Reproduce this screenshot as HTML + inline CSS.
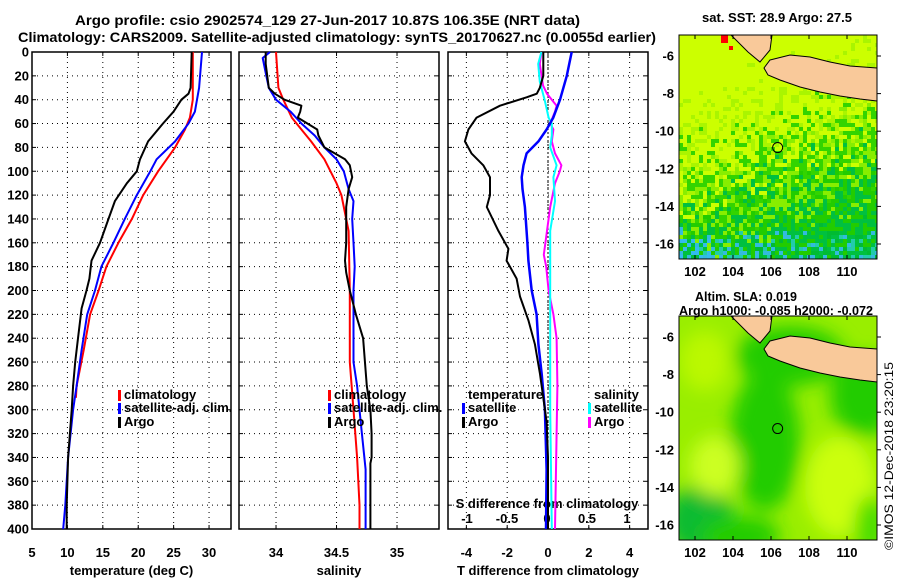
<!DOCTYPE html>
<html><head><meta charset="utf-8">
<style>
html,body{margin:0;padding:0;background:#fff;}
svg{display:block;font-family:"Liberation Sans",Arial,sans-serif;font-weight:bold;}
text{font-size:13px;fill:#000;}
</style></head>
<body>
<svg id="fig" width="900" height="580" viewBox="0 0 900 580" xmlns="http://www.w3.org/2000/svg">
<defs>
<filter id="blur" x="-50%" y="-50%" width="200%" height="200%"><feGaussianBlur stdDeviation="9"/></filter>
<clipPath id="clipMap1"><rect x="679" y="35" width="198" height="224"/></clipPath>
<clipPath id="clipMap2"><rect x="679" y="316" width="198" height="224"/></clipPath>
</defs>
<text x="75" y="25" textLength="505" lengthAdjust="spacingAndGlyphs" style="font-size:14px">Argo profile: csio 2902574_129 27-Jun-2017 10.87S 106.35E (NRT data)</text>
<text x="18" y="42" textLength="638" lengthAdjust="spacingAndGlyphs" style="font-size:14px">Climatology: CARS2009. Satellite-adjusted climatology: synTS_20170627.nc (0.0055d earlier)</text>
<g id="panels"></g>
<g id="maps"></g>
<text transform="translate(893,550) rotate(-90)" textLength="188" lengthAdjust="spacingAndGlyphs" style="font-size:12px;font-weight:normal">©IMOS 12-Dec-2018 23:20:15</text>
</svg>
<script>
// ---- data (depth in dbar) ----
const depthTicks = [0,20,40,60,80,100,120,140,160,180,200,220,240,260,280,300,320,340,360,380,400];
const tempTicks = [5,10,15,20,25,30];
const salTicks = [34,34.5,35];
const tdiffTicks = [-4,-2,0,2,4];
const sdiffTicks = [-1,-0.5,0,0.5,1];
const sdiffTickLabels = ["-1","-0.5","0","0.5","1"];

const argoTDepth = [0,30,35,40,50,60,75,90,100,110,125,140,160,175,190,200,215,240,260,280,300,340,380,400];
const argoT = [27.55,27.4,27.1,26.1,25.0,23.5,21.4,20.25,19.8,18.4,16.7,15.8,14.6,13.4,13.1,12.7,12.0,11.5,11.1,10.8,10.6,10.1,9.9,9.9];
const satTDepth = [0,30,50,60,75,90,100,120,140,160,180,200,220,250,280,300,340,380,400];
const satT = [29.0,28.6,28.0,27.1,25.2,22.6,21.7,19.8,18.1,16.5,14.8,13.9,12.8,12.0,11.3,10.8,10.1,9.7,9.4];
const climTDepth = [0,40,55,65,80,100,120,140,160,180,200,220,250,280,290];
const climT = [27.7,27.7,27.3,26.6,25.2,22.8,20.7,19.1,17.2,15.5,14.4,13.2,12.3,11.3,11.2];

const argoSDepth = [0,10,30,35,40,45,50,55,65,70,80,90,95,105,115,130,160,175,185,200,220,240,280,300,320,340,345,400];
const argoS = [33.915,33.915,33.94,33.99,34.07,34.21,34.2,34.18,34.34,34.35,34.40,34.57,34.61,34.63,34.60,34.58,34.58,34.57,34.58,34.61,34.66,34.72,34.75,34.78,34.79,34.79,34.78,34.78];
const satSDepth = [0,5,20,30,40,50,60,70,80,90,100,115,125,140,160,180,200,240,260,280,300,320,350,400];
const satS = [33.95,33.89,33.92,33.94,34.0,34.12,34.21,34.32,34.40,34.50,34.56,34.60,34.64,34.63,34.64,34.65,34.64,34.64,34.64,34.67,34.69,34.71,34.74,34.74];
const climSDepth = [0,30,40,55,65,75,90,110,120,130,150,200,260,300,340,380,400];
const climS = [34.0,34.02,34.06,34.13,34.21,34.29,34.40,34.50,34.54,34.56,34.60,34.61,34.61,34.64,34.67,34.69,34.69];

const argoTdDepth = [0,20,30,35,38,45,55,65,75,85,95,105,120,130,150,165,175,190,205,225,245,270,290,310,340,400];
const argoTd = [-0.23,-0.23,-0.4,-0.55,-1.05,-2.35,-3.5,-3.9,-4.07,-3.75,-3.17,-2.84,-2.84,-3.0,-2.43,-1.94,-2.03,-1.54,-1.37,-0.96,-0.64,-0.39,-0.23,-0.07,0,0];
const satTdDepth = [0,20,40,55,65,75,85,95,105,115,130,160,175,200,220,245,270,300,350,400];
const satTd = [1.16,0.92,0.59,0.26,-0.07,-0.47,-1.05,-1.2,-1.29,-1.25,-1.13,-1.01,-0.96,-0.8,-0.56,-0.47,-0.31,-0.15,-0.07,-0.1];
const argoSdDepth = [0,10,28,35,45,50,60,65,75,85,95,100,110,130,150,170,180,200,220,240,280,320,400];
const argoSd = [-0.07,-0.09,-0.05,0.0,0.12,0.1,0.04,0.08,0.06,0.1,0.18,0.16,0.1,0.04,0,-0.04,-0.01,0.02,0.08,0.12,0.13,0.12,0.1];
const satSdDepth = [0,10,25,40,55,60,70,80,95,105,125,150,200,300,400];
const satSd = [-0.07,-0.11,-0.09,-0.03,0.02,0.06,0.06,0.04,0.12,0.08,0.1,0.04,0.04,0.04,0.06];

const NS='http://www.w3.org/2000/svg';
function el(tag,attrs,parent,txt){const e=document.createElementNS(NS,tag);for(const k in attrs)e.setAttribute(k,attrs[k]);if(txt!==undefined)e.textContent=txt;parent.appendChild(e);return e;}
const Y0=52,Y1=529;
const yD=d=>Y0+(d/400)*(Y1-Y0);
const panels=document.getElementById('panels');

function makePanel(name,x0,x1,vmin,vmax,ticks,tickLabels,title,showY){
  const g=el('g',{},panels);
  
  
  const xf=v=>x0+(v-vmin)/(vmax-vmin)*(x1-x0);
  depthTicks.forEach(d=>{
    if(d>0&&d<400){const l=el('line',{x1:x0,x2:x1,y1:yD(d),y2:yD(d),stroke:'#000','stroke-width':1,'stroke-dasharray':'1,4'},g);
    
    }
    el('line',{x1:x0,x2:x0+4,y1:yD(d),y2:yD(d),stroke:'#000'},g);
    el('line',{x1:x1-4,x2:x1,y1:yD(d),y2:yD(d),stroke:'#000'},g);
    if(showY){const t=el('text',{x:x0-3,y:yD(d)+4.5,'text-anchor':'end'},g,String(d));
      
      }
  });
  ticks.forEach((v,i)=>{
    const x=xf(v);
    if(x>x0+1&&x<x1-1){const l=el('line',{x1:x,x2:x,y1:Y0,y2:Y1,stroke:'#000','stroke-width':1,'stroke-dasharray':'1,4'},g);
    
    }
    el('line',{x1:x,x2:x,y1:Y1-4,y2:Y1,stroke:'#000'},g);
    el('line',{x1:x,x2:x,y1:Y0,y2:Y0+4,stroke:'#000'},g);
    const t=el('text',{x:x,y:557,'text-anchor':'middle'},g,tickLabels[i]);
    
    
  });
  const r=el('rect',{x:x0,y:Y0,width:x1-x0,height:Y1-Y0,fill:'none',stroke:'#000','stroke-width':1.5},g);
  
  
  const tt=el('text',{x:(x0+x1)/2,y:575,'text-anchor':'middle'},g,title);
  
  
  return {g,xf};
}
function line(p,xf,depths,vals,color,w,name){
  const pts=depths.map((d,i)=>xf(vals[i]).toFixed(1)+','+yD(d).toFixed(1)).join(' ');
  const l=el('polyline',{points:pts,fill:'none',stroke:color,'stroke-width':w,'stroke-linejoin':'round'},p);
  
  
}
function legend(p,x,y,color,label,name){
  const g=el('g',{},p);
  
  
  if(color) el('rect',{x:x,y:y-9,width:3,height:11,fill:color},g);
  el('text',{x:x+6,y:y},g,label);
}
// panel 1
const P1=makePanel('temperature-panel',32,231,5,33.1,tempTicks,tempTicks.map(String),'temperature (deg C)',true);
line(P1.g,P1.xf,climTDepth,climT,'#f00',2,'climatology-temperature-line');
line(P1.g,P1.xf,satTDepth,satT,'#00f',2,'satellite-temperature-line');
line(P1.g,P1.xf,argoTDepth,argoT,'#000',2,'argo-temperature-line');
legend(P1.g,118,399,'#f00','climatology','legend-climatology');
legend(P1.g,118,412,'#00f','satellite-adj. clim.','legend-satellite');
legend(P1.g,118,426,'#000','Argo','legend-argo');
// panel 2
const P2=makePanel('salinity-panel',239,439,33.694,35.347,salTicks,['34','34.5','35'],'salinity',false);
line(P2.g,P2.xf,climSDepth,climS,'#f00',2,'climatology-salinity-line');
line(P2.g,P2.xf,satSDepth,satS,'#00f',2,'satellite-salinity-line');
line(P2.g,P2.xf,argoSDepth,argoS,'#000',2,'argo-salinity-line');
legend(P2.g,328,399,'#f00','climatology','legend-climatology');
legend(P2.g,328,412,'#00f','satellite-adj. clim.','legend-satellite');
legend(P2.g,328,426,'#000','Argo','legend-argo');
// panel 3
const P3=makePanel('difference-panel',448,648,-4.9,4.9,tdiffTicks,tdiffTicks.map(String),'T difference from climatology',false);
const xS=v=>547+v*80;
sdiffTicks.forEach((v,i)=>{
  const t=el('text',{x:xS(v),y:523,'text-anchor':'middle'},P3.g,sdiffTickLabels[i]);
  
  
});
{const t=el('text',{x:547,y:508,'text-anchor':'middle'},P3.g,'S difference from climatology');

}
el('line',{x1:548,x2:548,y1:Y0,y2:Y1,stroke:'#000','stroke-width':1,'stroke-dasharray':'2,2'},P3.g);
line(P3.g,xS,argoSdDepth,argoSd,'#f0f',2,'argo-salinity-diff-line');
line(P3.g,xS,satSdDepth,satSd,'#0ff',2,'satellite-salinity-diff-line');
line(P3.g,P3.xf,satTdDepth,satTd,'#00f',2.5,'satellite-temperature-diff-line');
line(P3.g,P3.xf,argoTdDepth,argoTd,'#000',2,'argo-temperature-diff-line');
legend(P3.g,462,399,null,'temperature','legend-temperature-header');
legend(P3.g,462,412,'#00f','satellite','legend-temp-satellite');
legend(P3.g,462,426,'#000','Argo','legend-temp-argo');
legend(P3.g,588,399,null,'salinity','legend-salinity-header');
legend(P3.g,588,412,'#0ff','satellite','legend-sal-satellite');
legend(P3.g,588,426,'#f0f','Argo','legend-sal-argo');

// ---- maps ----
const lonTicks=[102,104,106,108,110];
const latTicks=[-6,-8,-10,-12,-14,-16];
const maps=document.getElementById('maps');
const MX0=679,MX1=877;
const lonX=lon=>695+(lon-102)*19;
function rnd(i,j,s){let h=(i*374761393+j*668265263+s*1442695041)|0;h=(h^(h>>>13))*1274126177|0;return ((h^(h>>>16))>>>0)/4294967296;}
const land1=[[731,35],[772,35],[770,50],[760,62],[748,52]];
const land2=[[770,60],[790,55],[810,57],[830,62],[850,66],[877,68],[877,101],[860,99],[840,96],[820,92],[800,87],[780,80],[768,75],[764,68]];
function drawMap(name,top,title1,title2,smooth){
  const g=el('g',{},maps);
  
  
  const latY=lat=>top+21+(-6-lat)*18.8;
  const inner=el('g',{'clip-path':smooth?'url(#clipMap2)':'url(#clipMap1)'},g);
  if(!smooth){
    el('rect',{x:MX0,y:top,width:198,height:224,fill:'#ccff00'},inner);
    for(let i=0;i<50;i++)for(let j=0;j<56;j++){
      const x=MX0+i*4,y=top+j*4,fy=j/56,fx=i/50,r=rnd(i,j,1);
      let c=null;
      const greenness=fy*1.2+fx*0.35-0.3+(r-0.5)*0.8;
      if(greenness>0.9) c=(r<0.5?'#00bb33':'#00c040');
      else if(greenness>0.6) c=(r<0.5?'#22cc00':'#33d400');
      else if(greenness>0.35) c=(r<0.5?'#88ee00':'#aaf500');
      if(fy>0.84 && rnd(i,j,2)<(fy-0.84)*3) c=(rnd(i,j,3)<0.5?'#22ccaa':'#33bbdd');
      if(fy>0.9 && fx<0.15 && rnd(i,j,4)<0.5) c='#33bbee';
      if(c) el('rect',{x:x,y:y,width:4,height:4,fill:c},inner);
    }
    el('rect',{x:721,y:35,width:7,height:8,fill:'#f00'},inner);
    el('rect',{x:729,y:46,width:4,height:4,fill:'#f00'},inner);
  } else {
    el('rect',{x:MX0,y:top,width:198,height:224,fill:'#99ee00'},inner);
    const bl=el('g',{filter:'url(#blur)'},inner);
    [[765,top+125,35,70,'#22cc00'],[700,top+205,35,35,'#11bb33'],[740,top+220,40,20,'#22cc00'],[790,top+40,55,30,'#22cc00'],[865,top+80,35,40,'#22cc00'],[715,top+150,25,30,'#ccff22'],[840,top+170,35,50,'#ccff11'],[705,top+45,25,30,'#bbf800'],[870,top+210,15,30,'#44dd00']].forEach(e=>{
      el('ellipse',{cx:e[0],cy:e[1],rx:e[2],ry:e[3],fill:e[4]},bl);
    });
  }
  const off=top-35;
  [land1,land2].forEach(poly=>{
    const p=el('polygon',{points:poly.map(q=>q[0]+','+(q[1]+off)).join(' '),fill:'#f9c99a',stroke:'#000','stroke-width':1},inner);
    
    
  });
  const argo=el('circle',{cx:lonX(106.35),cy:latY(-10.87),r:5,fill:'none',stroke:'#000','stroke-width':1},g);
  
  
  el('rect',{x:MX0,y:top,width:198,height:224,fill:'none',stroke:'#000','stroke-width':1},g);
  lonTicks.forEach(lon=>{
    el('line',{x1:lonX(lon),x2:lonX(lon),y1:top,y2:top+4,stroke:'#000'},g);
    el('line',{x1:lonX(lon),x2:lonX(lon),y1:top+224,y2:top+220,stroke:'#000'},g);
    const t=el('text',{x:lonX(lon),y:top+241,'text-anchor':'middle'},g,String(lon));
    
    
  });
  latTicks.forEach(lat=>{
    el('line',{x1:MX1,x2:MX1+4,y1:latY(lat),y2:latY(lat),stroke:'#000'},g);
    const t=el('text',{x:674,y:latY(lat)+4.5,'text-anchor':'end'},g,String(lat));
    
    
  });
  if(title1){const t=el('text',{x:title2?695:702,y:top-(title2?15:13),textLength:title2?102:150,lengthAdjust:'spacingAndGlyphs'},g,title1);
    
    }
  if(title2){const t=el('text',{x:679,y:top-1,textLength:194,lengthAdjust:'spacingAndGlyphs'},g,title2);
    
    }
}
drawMap('sst-map',35,'sat. SST: 28.9 Argo: 27.5',null,false);
drawMap('sla-map',316,'Altim. SLA: 0.019','Argo h1000: -0.085 h2000: -0.072',true);
</script>
</body></html>
